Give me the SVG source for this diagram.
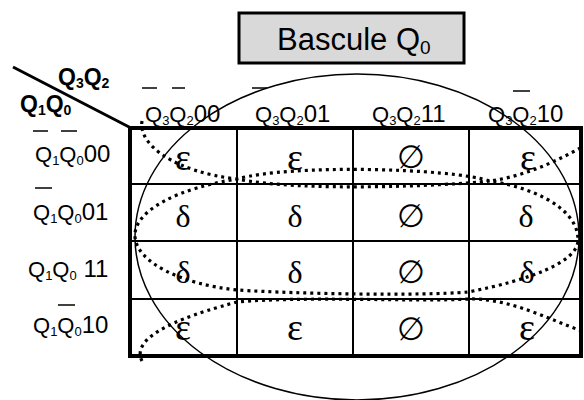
<svg xmlns="http://www.w3.org/2000/svg" width="584" height="400" viewBox="0 0 584 400">
<style>
.t{font-family:"Liberation Sans",Arial,sans-serif;fill:#000}
.b{font-weight:bold}
.s{font-family:"Liberation Serif","DejaVu Serif",serif;font-size:32px;text-anchor:middle;fill:#000}
.e{font-size:38px}
.bar{stroke:#000;stroke-width:1.5}
.thin{stroke:#000;stroke-width:2;fill:none}
.dot{stroke:#000;stroke-width:3.2;fill:none;stroke-dasharray:3 4}
</style>
<rect width="584" height="400" fill="#fff"/>
<g id="title">
<rect x="239" y="13" width="225" height="50" fill="#d9d9d9" stroke="#000" stroke-width="3"/>
<text class="t" x="277" y="50" font-size="31">Bascule Q<tspan font-size="19" dy="4">0</tspan></text>
</g>
<g id="corner">
<line x1="13" y1="67" x2="131" y2="128" stroke="#000" stroke-width="3"/>
<text class="t b" x="58" y="85" font-size="23">Q<tspan font-size="14" dy="3">3</tspan><tspan dy="-3">Q</tspan><tspan font-size="14" dy="3">2</tspan></text>
<text class="t b" x="20" y="112" font-size="23">Q<tspan font-size="14" dy="3">1</tspan><tspan dy="-3">Q</tspan><tspan font-size="14" dy="3">0</tspan></text>
</g>
<g id="col-headers">
<text class="t" x="145" y="122" font-size="22">Q<tspan font-size="13" dy="3">3</tspan><tspan dy="-3">Q</tspan><tspan font-size="13" dy="3">2</tspan><tspan dy="-3" font-size="24">00</tspan></text>
<line class="bar" x1="142" y1="88" x2="157" y2="88"/><line class="bar" x1="172" y1="88" x2="185" y2="88"/>
<text class="t" x="255" y="122" font-size="22">Q<tspan font-size="13" dy="3">3</tspan><tspan dy="-3">Q</tspan><tspan font-size="13" dy="3">2</tspan><tspan dy="-3" font-size="24">01</tspan></text>
<line class="bar" x1="252" y1="88" x2="267" y2="88"/>
<text class="t" x="372" y="122" font-size="22">Q<tspan font-size="13" dy="3">3</tspan><tspan dy="-3">Q</tspan><tspan font-size="13" dy="3">2</tspan><tspan dy="-3" font-size="24">11</tspan></text>
<text class="t" x="488" y="122" font-size="22">Q<tspan font-size="13" dy="3">3</tspan><tspan dy="-3">Q</tspan><tspan font-size="13" dy="3">2</tspan><tspan dy="-3" font-size="24">10</tspan></text>
<line class="bar" x1="513" y1="91" x2="530" y2="91"/>
</g>
<g id="row-headers">
<text class="t" x="35" y="162" font-size="22">Q<tspan font-size="13" dy="3">1</tspan><tspan dy="-3">Q</tspan><tspan font-size="13" dy="3">0</tspan><tspan dy="-3" font-size="24">00</tspan></text>
<line class="bar" x1="33" y1="131" x2="48" y2="131"/><line class="bar" x1="61" y1="131" x2="77" y2="131"/>
<text class="t" x="33" y="220" font-size="22">Q<tspan font-size="13" dy="3">1</tspan><tspan dy="-3">Q</tspan><tspan font-size="13" dy="3">0</tspan><tspan dy="-3" font-size="24">01</tspan></text>
<line class="bar" x1="35" y1="188" x2="52" y2="188"/>
<text class="t" x="28" y="277" font-size="22">Q<tspan font-size="13" dy="3">1</tspan><tspan dy="-3">Q</tspan><tspan font-size="13" dy="3">0</tspan><tspan dy="-3" font-size="24"> 11</tspan></text>
<text class="t" x="33" y="333" font-size="22">Q<tspan font-size="13" dy="3">1</tspan><tspan dy="-3">Q</tspan><tspan font-size="13" dy="3">0</tspan><tspan dy="-3" font-size="24">10</tspan></text>
<line class="bar" x1="58" y1="305" x2="75" y2="305"/>
</g>
<g id="grid">
<line class="thin" x1="237" y1="128" x2="237" y2="356"/>
<line class="thin" x1="353" y1="128" x2="353" y2="356"/>
<line class="thin" x1="469" y1="128" x2="469" y2="356"/>
<line class="thin" x1="130" y1="184" x2="582" y2="184"/>
<line class="thin" x1="130" y1="241" x2="582" y2="241"/>
<line class="thin" x1="130" y1="299" x2="582" y2="299"/>
<rect x="130" y="128" width="451" height="228" fill="none" stroke="#000" stroke-width="4"/>
</g>
<g id="cells">
<text class="s e" x="183" y="170">ε</text><text class="s e" x="295" y="170">ε</text><text class="s" x="411" y="168">∅</text><text class="s e" x="528" y="170">ε</text>
<text class="s" x="183" y="227">δ</text><text class="s" x="295" y="227">δ</text><text class="s" x="411" y="227">∅</text><text class="s" x="526" y="227">δ</text>
<text class="s" x="183" y="283">δ</text><text class="s" x="295" y="283">δ</text><text class="s" x="411" y="283">∅</text><text class="s" x="527" y="283">δ</text>
<text class="s e" x="183" y="340">ε</text><text class="s e" x="295" y="340">ε</text><text class="s" x="411" y="340">∅</text><text class="s e" x="527" y="340">ε</text>
</g>
<g id="connectors">
<ellipse cx="357" cy="237" rx="222" ry="163" fill="none" stroke="#000" stroke-width="1.5"/>
<path class="dot" d="M142,121 C138,145 175,172 237,179 C300,192 445,186 490,181 C525,186 578,205 578,240 C578,262 530,280 468,292 C420,296 300,294 237,290 C180,284 137,262 135,237 C133,210 180,188 237,179 C290,164 450,168 490,181 C525,176 555,162 584,146"/>
<path class="dot" d="M142,361 C134,345 150,325 237,302 C300,296 420,302 469,299 C510,298 550,320 582,331"/>
</g>
</svg>
